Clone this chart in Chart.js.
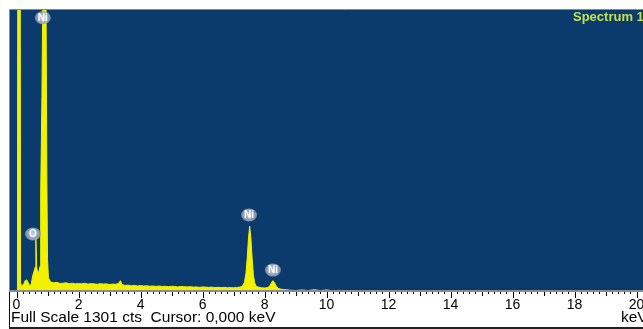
<!DOCTYPE html>
<html>
<head>
<meta charset="utf-8">
<title>EDS spectrum</title>
<script src="https://cdn.jsdelivr.net/npm/chart.js@4.4.1/dist/chart.umd.min.js"></script>
<style>
  html, body { margin: 0; padding: 0; background: #fff; overflow: hidden; }
  #frame { position: relative; width: 643px; height: 329px; overflow: hidden; }
  #spectrumChart { position: absolute; left: 0; top: 0; }
  #statusPanel { position: absolute; left: 9px; top: 292px; width: 700px; height: 35px;
                 border-left: 1px solid #111; border-bottom: 2px solid #222; }
  .statusText { position: absolute; top: 308px; font: 15.5px "Liberation Sans", Arial, sans-serif;
                color: #000; white-space: pre; }
  #specTitle { position: absolute; left: 573px; top: 9px; color: #c4e24a;
               font: bold 13px "Liberation Sans", Arial, sans-serif; white-space: pre; }
</style>
</head>
<body>
<div id="frame">
  <canvas id="spectrumChart" width="680" height="329"></canvas>
  <div id="statusPanel"></div>
  <div class="statusText" style="left:11px">Full Scale 1301 cts  Cursor: 0,000 keV</div>
  <div class="statusText" style="left:621px">keV</div>
  <div id="specTitle">Spectrum 1</div>
</div>
<script>
// spectrum channels (keV) and counts
const energyKeV = [
  0.00, 0.03, 0.05, 0.11, 0.13, 0.16, 0.20, 0.24, 0.28, 0.32,
  0.36, 0.40, 0.44, 0.48, 0.52, 0.56, 0.60, 0.625, 0.65, 0.68,
  0.72, 0.76, 0.78, 0.82, 0.85, 0.88, 0.93, 0.95, 0.98, 1.00,
  1.03, 1.10, 1.20, 1.30, 1.40, 1.50, 1.60, 1.70, 1.80, 1.90,
  2.00, 2.10, 2.20, 2.30, 2.40, 2.50, 2.60, 2.70, 2.80, 2.90,
  3.00, 3.10, 3.20, 3.30, 3.35, 3.40, 3.50, 3.60, 3.70, 3.80,
  3.90, 4.00, 4.10, 4.20, 4.30, 4.40, 4.50, 4.60, 4.70, 4.80,
  4.90, 5.00, 5.10, 5.20, 5.30, 5.40, 5.50, 5.60, 5.70, 5.80,
  5.90, 6.00, 6.10, 6.20, 6.30, 6.40, 6.50, 6.60, 6.70, 6.80,
  6.90, 7.00, 7.10, 7.20, 7.25, 7.30, 7.35, 7.40, 7.44, 7.48,
  7.52, 7.56, 7.60, 7.64, 7.68, 7.73, 7.80, 7.90, 8.00, 8.10,
  8.16, 8.21, 8.27, 8.33, 8.39, 8.45, 8.52, 8.60, 8.70, 8.80,
  8.90, 9.00, 9.20, 9.40, 9.60, 9.80, 10.00, 10.20, 10.40, 10.60
];
const counts = [
  0, 0, 3000, 3000, 40, 22, 28, 35, 48, 52,
  45, 30, 26, 35, 70, 88, 110, 245, 110, 88,
  88, 115, 450, 900, 1400, 3000, 3000, 1400, 500, 150,
  60, 42, 38, 40, 35, 36, 38, 34, 36, 33,
  35, 33, 36, 32, 34, 33, 31, 34, 32, 33,
  30, 32, 31, 36, 48, 30, 26, 27, 24, 26,
  23, 25, 23, 24, 22, 23, 21, 23, 21, 22,
  20, 22, 21, 19, 21, 20, 19, 20, 18, 19,
  17, 19, 18, 17, 18, 16, 17, 16, 17, 15,
  16, 15, 16, 18, 20, 26, 40, 80, 150, 240,
  300, 245, 150, 75, 38, 22, 18, 15, 14, 16,
  22, 35, 48, 36, 20, 12, 9, 7, 6, 4,
  3, 2, 5, 2, 6, 2, 5, 1, 3, 0
];

// peak markers: element, energy (keV), marker height (counts)
const peakNames = ['Ni', 'O', 'Ni', 'Ni'];
const peakEnergies = [0.85, 0.53, 7.50, 8.27];
const peakLabelCounts = [1265, 264, 352, 97];

const tickLabels = ['0', '2', '4', '6', '8', '10', '12', '14', '16', '18', '20'];
const fullScaleCts = 1301;

const plotBackground = {
  id: 'plotBackground',
  beforeDraw(chart) {
    const { ctx, chartArea: a } = chart;
    ctx.save();
    ctx.fillStyle = '#0b3a6c';
    ctx.fillRect(a.left, a.top, a.right - a.left, a.bottom - a.top);
    ctx.strokeStyle = '#7d8a99';
    ctx.lineWidth = 1;
    ctx.beginPath();
    ctx.moveTo(a.left - 0.5, a.bottom);
    ctx.lineTo(a.left - 0.5, a.top - 0.5);
    ctx.lineTo(a.right, a.top - 0.5);
    ctx.stroke();
    ctx.restore();
  }
};

// small ticks every 0.2 keV, longer ones on whole and even keV
const minorTicks = {
  id: 'minorTicks',
  afterDraw(chart) {
    const { ctx, scales: { x } } = chart;
    const y0 = chart.chartArea.bottom + 1;
    ctx.save();
    ctx.strokeStyle = '#000';
    ctx.lineWidth = 1;
    ctx.beginPath();
    for (let i = 0; i <= 105; i++) {
      const px = Math.round(x.getPixelForValue(i * 0.2)) + 0.5;
      const len = i % 10 === 0 ? 6 : (i % 5 === 0 ? 4 : 2);
      ctx.moveTo(px, y0);
      ctx.lineTo(px, y0 + len);
    }
    ctx.stroke();
    ctx.restore();
  }
};

const peakMarkers = {
  id: 'peakMarkers',
  afterDatasetsDraw(chart) {
    const { ctx, scales: { x, y } } = chart;
    ctx.save();
    peakNames.forEach((name, i) => {
      const cx = x.getPixelForValue(peakEnergies[i]);
      const cy = y.getPixelForValue(peakLabelCounts[i]);
      const g = ctx.createRadialGradient(cx, cy, 1, cx, cy, 9);
      g.addColorStop(0, 'rgba(200,208,222,0.95)');
      g.addColorStop(1, 'rgba(120,138,165,0.85)');
      ctx.fillStyle = g;
      ctx.beginPath();
      ctx.ellipse(cx, cy, 8, 6.5, 0, 0, Math.PI * 2);
      ctx.fill();
      ctx.fillStyle = '#fff';
      ctx.font = 'bold 10px "Liberation Sans", Arial, sans-serif';
      ctx.textAlign = 'center';
      ctx.textBaseline = 'middle';
      ctx.fillText(name, cx, cy + 0.5);
    });
    ctx.restore();
  }
};

function createSpectrumChart() {
  const ctx = document.getElementById('spectrumChart').getContext('2d');
  return new Chart(ctx, {
    type: 'line',
    data: {
      datasets: [{
        data: energyKeV.map((e, i) => ({ x: e, y: counts[i] })),
        borderColor: '#f2f200',
        backgroundColor: '#f2f200',
        borderWidth: 1,
        fill: 'origin',
        pointRadius: 0,
        tension: 0
      }]
    },
    options: {
      responsive: false,
      animation: false,
      layout: { padding: { left: 10, top: 10, right: 0, bottom: 0 } },
      plugins: { legend: { display: false }, tooltip: { enabled: false } },
      scales: {
        x: {
          type: 'linear',
          min: -0.21,
          max: 21.4,
          grid: { display: false, drawTicks: false },
          border: { display: true, color: '#8c8c8c', width: 2, z: 1 },
          afterBuildTicks: s => { s.ticks = tickLabels.map(t => ({ value: Number(t) })); },
          afterFit: s => { s.height = 38; },
          ticks: {
            autoSkip: false,
            maxRotation: 0,
            padding: 6,
            color: '#000',
            font: { family: '"Liberation Sans", Arial, sans-serif', size: 14 },
            callback: v => String(v)
          }
        },
        y: {
          display: false,
          min: 0,
          max: fullScaleCts
        }
      }
    },
    plugins: [plotBackground, minorTicks, peakMarkers]
  });
}

document.addEventListener('DOMContentLoaded', createSpectrumChart);
</script>
</body>
</html>
